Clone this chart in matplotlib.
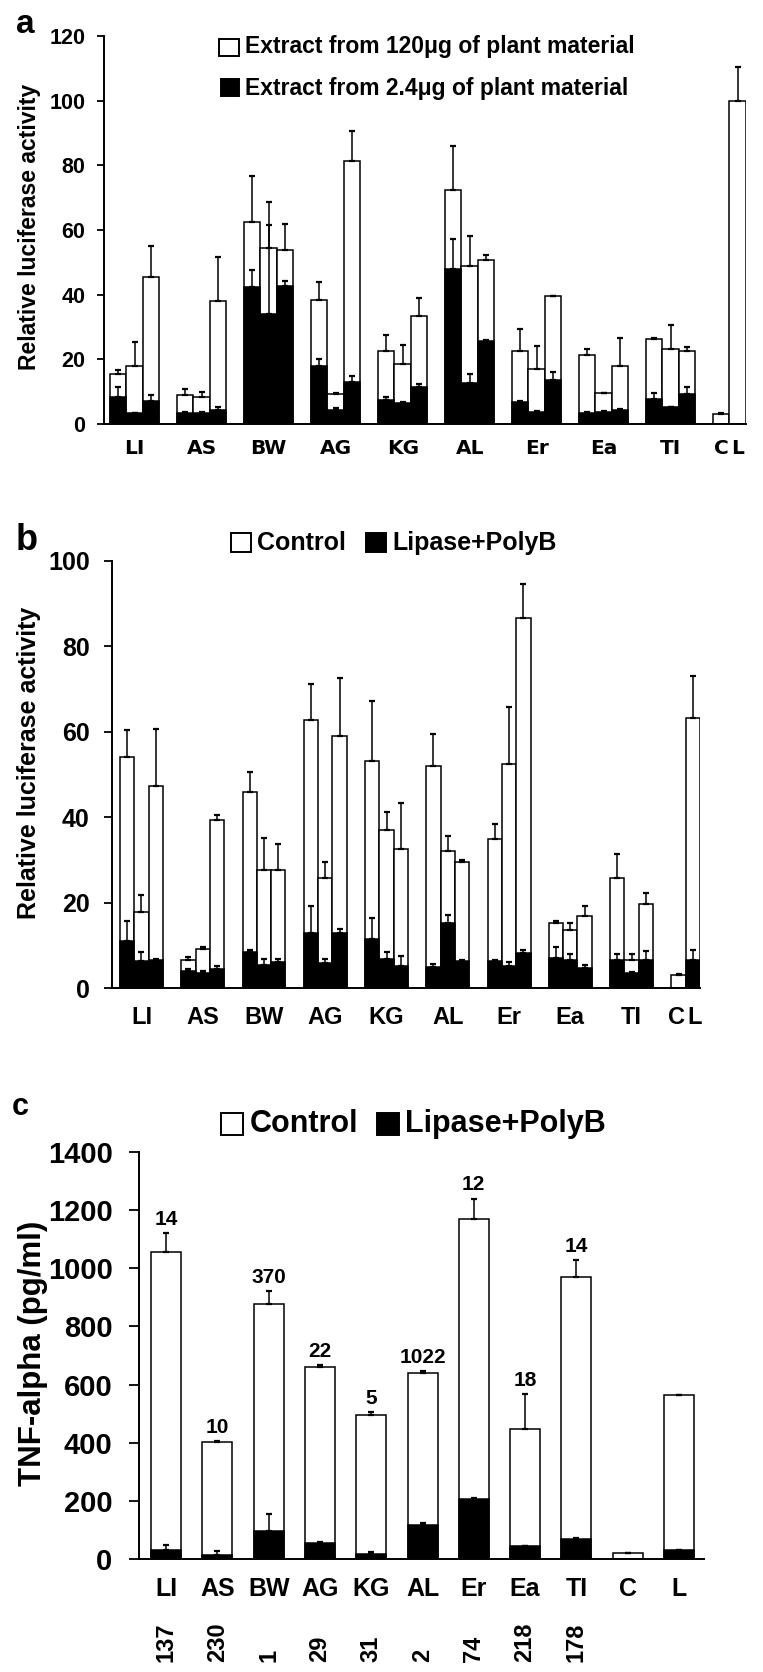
import numpy as np
import matplotlib.pyplot as plt
from matplotlib.patches import Rectangle

plt.rcParams['font.family'] = ['Liberation Sans', 'DejaVu Sans']
plt.rcParams['font.weight'] = 'bold'

# ---- panel a: extract amount ----
groups = ['LI', 'AS', 'BW', 'AG', 'KG', 'AL', 'Er', 'Ea', 'TI']
a_hi = [15.4, 17.8, 45.4, 9.0, 8.5, 37.9, 62.4, 54.4, 53.7,
        38.4, 9.3, 81.4, 22.7, 18.6, 33.3, 72.3, 49.0, 50.8,
        22.6, 16.9, 39.5, 21.3, 9.5, 17.8, 26.2, 23.2, 22.6]
a_hi_err = [1.3, 7.7, 9.6, 1.7, 1.5, 13.7, 14.2, 14.2, 8.2,
            5.5, 0.4, 9.1, 4.9, 5.9, 5.6, 13.6, 9.0, 1.6,
            6.7, 7.1, 0.1, 1.9, 0.2, 8.7, 0.3, 7.5, 1.1]
a_lo = [8.2, 3.3, 7.1, 3.5, 3.5, 4.3, 42.4, 34.1, 42.8,
        17.8, 4.3, 13.1, 7.4, 6.6, 11.3, 47.9, 12.8, 25.8,
        6.9, 3.8, 13.6, 3.5, 3.6, 4.3, 7.7, 5.2, 9.3]
a_lo_err = [3.2, 0.2, 1.9, 0.3, 0.3, 1.1, 5.1, 27.5, 1.3,
            2.3, 0.6, 1.8, 1.1, 0.2, 1.0, 9.4, 2.7, 0.2,
            0.2, 0.2, 2.4, 0.2, 0.3, 0.3, 2.0, 0.2, 2.1]
ctrl_names = ['C', 'L']
a_ctrl = [3.1, 100.0]
a_ctrl_err = [0.4, 10.5]

# ---- panel b: lipase + polymyxin B ----
b_ctrl = [54.2, 17.8, 47.2, 6.6, 9.2, 39.4, 46.0, 27.7, 27.7,
          62.7, 25.8, 59.1, 53.2, 37.0, 32.5, 51.9, 32.0, 29.5,
          34.8, 52.5, 86.7, 15.2, 13.6, 16.8, 25.7, 6.5, 19.6]
b_ctrl_err = [6.3, 4.0, 13.4, 0.6, 0.5, 1.2, 4.5, 7.4, 6.0,
              8.4, 3.7, 13.6, 14.1, 4.3, 10.8, 7.5, 3.5, 0.4,
              3.6, 13.4, 7.8, 0.5, 1.7, 2.4, 5.6, 1.4, 2.7]
b_lip = [10.9, 6.3, 6.5, 4.0, 3.5, 4.5, 8.4, 5.3, 6.2,
         12.9, 5.8, 12.9, 11.4, 6.7, 5.1, 4.9, 15.2, 6.3,
         6.3, 5.1, 8.1, 7.0, 6.5, 4.7, 6.6, 3.5, 6.6]
b_lip_err = [4.8, 2.1, 0.2, 0.5, 0.5, 0.6, 0.6, 1.6, 0.7,
             6.4, 1.1, 1.0, 5.0, 1.7, 2.4, 0.7, 1.9, 0.2,
             0.2, 1.0, 0.9, 2.7, 1.5, 0.8, 1.3, 0.2, 2.0]
b_cl_ctrl = [3.0, 63.3]
b_cl_ctrl_err = [0.3, 9.7]
b_cl_lip = [0.0, 6.5]
b_cl_lip_err = [0.0, 2.5]

# ---- panel c: TNF-alpha ----
c_names = ['LI', 'AS', 'BW', 'AG', 'KG', 'AL', 'Er', 'Ea', 'TI', 'C', 'L']
c_ctrl = [1057, 401, 878, 661, 495, 639, 1171, 447, 969, 22, 563]
c_ctrl_err = [63, 6, 43, 6, 9, 6, 69, 120, 60, 0, 0]
c_lip = [32, 13, 98, 55, 18, 118, 207, 43, 69, 0, 30]
c_lip_err = [17, 13, 57, 2, 7, 5, 2, 3, 4, 0, 0]
c_top_labels = ['14', '10', '370', '22', '5', '1022', '12', '18', '14', '', '']
c_bottom_labels = ['137', '230', '1', '29', '31', '2', '74', '218', '178']

W, H = 763, 1672
fig = plt.figure(figsize=(W / 100, H / 100), dpi=100)


def rect(l, t, r, b):
    return [l / W, 1 - b / H, (r - l) / W, (b - t) / H]


def fx(px):
    return px / W


def fy(py):
    return 1 - py / H


def style(ax, tick_len, pad, fs):
    for s in ['top', 'right']:
        ax.spines[s].set_visible(False)
    for s in ['left', 'bottom']:
        ax.spines[s].set_linewidth(1.4)
    ax.tick_params(axis='y', direction='out', length=tick_len, width=1.3,
                   pad=pad, labelsize=fs)
    ax.tick_params(axis='x', length=0)


def bars(ax, x, h, err, color, width):
    x = np.asarray(x, float)
    h = np.asarray(h, float)
    err = np.asarray(err, float)
    keep = h > 0
    ax.bar(x[keep], h[keep], width=width, color=color, edgecolor='black',
           linewidth=1.1, zorder=2 if color == 'white' else 4)
    ax.errorbar(x[keep], h[keep], yerr=[np.zeros(keep.sum()), err[keep]],
                fmt='none', ecolor='black', elinewidth=1.1, capsize=2.5,
                capthick=1.6, zorder=3 if color == 'white' else 5)


def legend_box(x0, y0, x1, y1, color):
    fig.add_artist(Rectangle((fx(x0), fy(y1)), (x1 - x0) / W, (y1 - y0) / H,
                             transform=fig.transFigure, facecolor=color,
                             edgecolor='black', linewidth=1.4))


# ================= panel a =================
ax = fig.add_axes(rect(104, 36, 746, 424))
Pa = 4.06
xa = (np.arange(9)[:, None] * Pa + np.arange(3)[None, :] + 0.5).ravel()
xa_cl = 9 * Pa + np.arange(2) + 0.5
bars(ax, np.r_[xa, xa_cl], a_hi + a_ctrl, a_hi_err + a_ctrl_err, 'white', 1)
bars(ax, xa, a_lo, a_lo_err, 'black', 1)
ax.set_ylim(0, 120)
ax.set_xlim(-0.36, 9 * Pa + 2)
ax.set_yticks(np.arange(0, 121, 20))
style(ax, 5, 8.5, 15.5)
ax.set_xticks(np.r_[xa.reshape(9, 3)[:, 1], xa_cl])
ax.set_xticklabels(groups + ctrl_names, fontfamily='DejaVu Sans',
                   fontsize=14.5, fontweight='bold')
ax.tick_params(axis='x', pad=11)
fig.text(fx(30), fy(227), 'Relative luciferase activity', rotation=90,
         ha='center', va='center', fontsize=16.5)
fig.text(fx(16), fy(33), 'a', fontsize=24, va='baseline')
legend_box(219, 39, 239, 56, 'white')
fig.text(fx(245), fy(47), 'Extract from 120\u03bcg of plant material',
         fontsize=16.5, va='center')
legend_box(221, 79, 239, 96, 'black')
fig.text(fx(245), fy(88), 'Extract from 2.4\u03bcg of plant material',
         fontsize=16.5, va='center')

# ================= panel b =================
ax = fig.add_axes(rect(112, 561, 700, 988))
Pb = 4.28
xb = (np.arange(9)[:, None] * Pb + np.arange(3)[None, :] + 0.5).ravel()
xb_cl = 9 * Pb + np.arange(2) + 0.5
bars(ax, np.r_[xb, xb_cl], b_ctrl + b_cl_ctrl, b_ctrl_err + b_cl_ctrl_err,
     'white', 1)
bars(ax, np.r_[xb, xb_cl], b_lip + b_cl_lip, b_lip_err + b_cl_lip_err,
     'black', 1)
ax.set_ylim(0, 100)
ax.set_xlim(-0.56, 9 * Pb + 2)
ax.set_yticks(np.arange(0, 101, 20))
style(ax, 6, 10, 18)
ax.set_xticks(np.r_[xb.reshape(9, 3)[:, 1], xb_cl + [-0.15, 0.15]])
ax.set_xticklabels(groups + ctrl_names, fontsize=17)
ax.tick_params(axis='x', pad=13)
fig.text(fx(29), fy(763), 'Relative luciferase activity', rotation=90,
         ha='center', va='center', fontsize=18)
fig.text(fx(16), fy(550), 'b', fontsize=26, va='baseline')
legend_box(231, 533, 251, 552, 'white')
fig.text(fx(257), fy(543), 'Control', fontsize=18, va='center')
legend_box(366, 533, 386, 552, 'black')
fig.text(fx(392), fy(543), 'Lipase+PolyB', fontsize=18, va='center')

# ================= panel c =================
ax = fig.add_axes(rect(139, 1152, 704, 1559))
xc = np.arange(len(c_names))
bars(ax, xc, c_ctrl, c_ctrl_err, 'white', 0.585)
bars(ax, xc, c_lip, c_lip_err, 'black', 0.585)
ax.set_ylim(0, 1400)
ax.set_xlim(-0.53, 10.49)
ax.set_yticks(np.arange(0, 1401, 200))
style(ax, 7, 12, 21)
ax.set_xticks(xc)
ax.set_xticklabels(c_names, fontsize=18)
ax.tick_params(axis='x', pad=13)
for i, lab in enumerate(c_top_labels):
    if lab:
        ax.annotate(lab, xy=(xc[i], c_ctrl[i] + c_ctrl_err[i]),
                    xytext=(0, 3), textcoords='offset points',
                    ha='center', va='bottom', fontsize=15)
for i, lab in enumerate(c_bottom_labels):
    ax.annotate(lab, xy=(xc[i], 0), xycoords=('data', 'axes fraction'),
                xytext=(0, -74), textcoords='offset points',
                ha='center', va='bottom', rotation=90, fontsize=17)
fig.text(fx(33), fy(1353), 'TNF-alpha (pg/ml)', rotation=90,
         ha='center', va='center', fontsize=22.5)
fig.text(fx(12), fy(1115), 'c', fontsize=22, va='baseline')
legend_box(221, 1113, 243, 1135, 'white')
fig.text(fx(250), fy(1124), 'Control', fontsize=22, va='center')
legend_box(377, 1113, 399, 1135, 'black')
fig.text(fx(405), fy(1124), 'Lipase+PolyB', fontsize=22, va='center')

fig.savefig('out.png', dpi=100)
